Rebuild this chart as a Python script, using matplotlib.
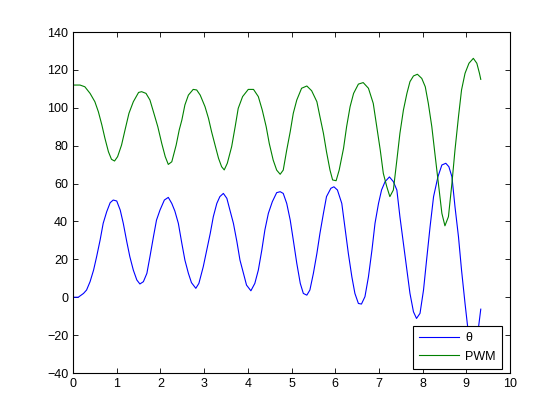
import matplotlib
matplotlib.use("Agg")
from matplotlib import pyplot as plt

# tiempo y datos
t_theta = [0, 0.12, 0.24, 0.31, 0.39, 0.47, 0.54, 0.62, 0.69, 0.77, 0.85, 0.92, 1.00, 1.08, 1.15,
           1.23, 1.30, 1.38, 1.46, 1.53, 1.61, 1.69, 1.76, 1.84, 1.91, 1.99, 2.09, 2.18, 2.26, 2.33,
           2.41, 2.49, 2.56, 2.64, 2.71, 2.81, 2.88, 2.98, 3.06, 3.14, 3.21, 3.29, 3.36, 3.44, 3.52,
           3.59, 3.67, 3.75, 3.82, 3.90, 3.97, 4.07, 4.16, 4.24, 4.32, 4.39, 4.47, 4.56, 4.66, 4.74,
           4.81, 4.89, 4.97, 5.04, 5.12, 5.20, 5.27, 5.35, 5.42, 5.50, 5.58, 5.65, 5.73, 5.80, 5.90,
           5.97, 6.05, 6.15, 6.22, 6.30, 6.38, 6.45, 6.53, 6.60, 6.68, 6.76, 6.84, 6.91, 6.99, 7.06,
           7.14, 7.24, 7.33, 7.41, 7.48, 7.56, 7.64, 7.71, 7.79, 7.86, 7.94, 8.02, 8.09, 8.17, 8.25,
           8.35, 8.44, 8.53, 8.60, 8.67, 8.74, 8.82, 8.89, 8.97, 9.03, 9.15, 9.28, 9.33]
theta = [0, 0, 2.0, 3.8, 8.2, 14.3, 21.4, 30.2, 39.0, 45.1, 49.9, 51.3, 50.8, 46.0, 39.0,
         29.3, 21.4, 14.3, 9.1, 7.0, 8.2, 12.6, 21.4, 31.9, 40.7, 46.0, 51.3, 52.7, 49.5, 45.5,
         39.0, 28.4, 19.6, 12.6, 7.7, 4.7, 7.3, 16.1, 24.9, 33.7, 42.5, 49.5, 53.1, 54.8, 52.2,
         46.0, 39.0, 29.3, 19.6, 12.6, 6.4, 3.4, 7.3, 14.3, 24.9, 35.5, 44.3, 50.4, 55.2, 55.7,
         54.8, 49.5, 40.7, 30.2, 17.9, 7.3, 2.0, 1.1, 3.8, 12.6, 23.1, 33.7, 44.3, 53.1, 57.5,
         58.3, 56.6, 49.5, 37.2, 23.1, 10.8, 2.0, -3.3, -3.6, 0.3, 10.8, 24.9, 39.0, 49.5, 56.6,
         61.0, 63.5, 61.0, 56.6, 42.5, 28.4, 14.3, 2.0, -7.7, -11.2, -8.5, 3.8, 19.6, 37.2, 53.1,
         63.6, 69.8, 70.7, 68.9, 63.6, 47.8, 31.9, 14.3, -3.3, -15.6, -32.0, -15.6, -6.3]

t_pwm = [0, 0.16, 0.27, 0.39, 0.50, 0.58, 0.66, 0.73, 0.81, 0.88, 0.95, 1.02, 1.11, 1.19, 1.28,
         1.38, 1.50, 1.57, 1.67, 1.76, 1.85, 1.94, 2.03, 2.11, 2.18, 2.26, 2.36, 2.43, 2.49, 2.56,
         2.64, 2.75, 2.83, 2.91, 3.02, 3.10, 3.17, 3.25, 3.33, 3.40, 3.46, 3.53, 3.63, 3.71, 3.78,
         3.88, 4.01, 4.13, 4.24, 4.33, 4.42, 4.49, 4.58, 4.66, 4.74, 4.81, 4.89, 4.97, 5.04, 5.12,
         5.23, 5.35, 5.46, 5.58, 5.65, 5.73, 5.80, 5.88, 5.94, 6.02, 6.09, 6.19, 6.26, 6.34, 6.42,
         6.53, 6.64, 6.76, 6.87, 6.95, 7.03, 7.10, 7.18, 7.25, 7.33, 7.41, 7.48, 7.56, 7.64, 7.71,
         7.79, 7.88, 7.98, 8.06, 8.13, 8.21, 8.28, 8.36, 8.44, 8.51, 8.59, 8.67, 8.74, 8.82, 8.89,
         8.97, 9.06, 9.16, 9.24, 9.30, 9.33]
pwm = [112, 112, 111.1, 107.6, 103.2, 97.9, 90.9, 83.9, 76.8, 72.8, 71.9, 74.2, 80.3, 88.3, 97.1,
       103.2, 108.1, 108.5, 107.6, 104.1, 97.1, 90.0, 81.2, 74.2, 70.1, 71.5, 80.3, 88.3, 93.5, 101.5,
       106.7, 109.7, 109.4, 106.7, 100.6, 94.4, 87.4, 80.3, 73.3, 68.9, 67.2, 70.7, 79.5, 90.0, 99.7,
       105.9, 109.7, 109.7, 105.9, 98.8, 90.0, 81.2, 72.4, 67.1, 64.9, 67.1, 77.7, 87.4, 97.1, 104.1,
       110.3, 111.5, 109.0, 103.2, 95.3, 86.5, 76.8, 67.1, 61.9, 61.5, 67.1, 78.6, 90.0, 100.6, 107.6,
       112.5, 113.3, 110.3, 102.3, 90.0, 77.7, 65.4, 58.3, 53.1, 56.6, 72.4, 86.5, 98.8, 107.6, 113.8,
       116.8, 117.7, 115.5, 111.1, 102.3, 90.0, 75.9, 60.1, 44.3, 37.7, 42.5, 60.1, 77.7, 95.3, 109.4,
       118.2, 123.5, 126.1, 123.5, 118.2, 115.0]

plt.rcParams['font.family'] = ['Liberation Sans', 'DejaVu Sans']

fig = plt.figure(figsize=(5.6, 4.2), dpi=100)
ax = fig.add_axes([0.1304, 0.1119, 0.7804, 0.8119])

ax.plot(t_theta, theta, color=(0, 0, 1), lw=0.8, label="θ")
ax.plot(t_pwm, pwm, color=(0, 0.5, 0), lw=0.8, label="PWM")

ax.set_xlim(0, 10)
ax.set_ylim(-40, 140)
ax.set_xticks(range(0, 11))
ax.set_yticks(range(-40, 141, 20))
ax.tick_params(direction='in', top=True, right=True, labelsize=9, length=3.6, width=0.6)
for s in ax.spines.values():
    s.set_linewidth(0.8)

# leyenda abajo a la derecha
leg = ax.legend(loc='lower right', bbox_to_anchor=(0.982, 0.012), borderaxespad=0,
                fancybox=False, edgecolor='black', fontsize=9, handlelength=3.2,
                handletextpad=0.5, borderpad=0.5, labelspacing=0.5, framealpha=1)
leg.get_frame().set_linewidth(0.8)

fig.savefig("out.png", dpi=100)
